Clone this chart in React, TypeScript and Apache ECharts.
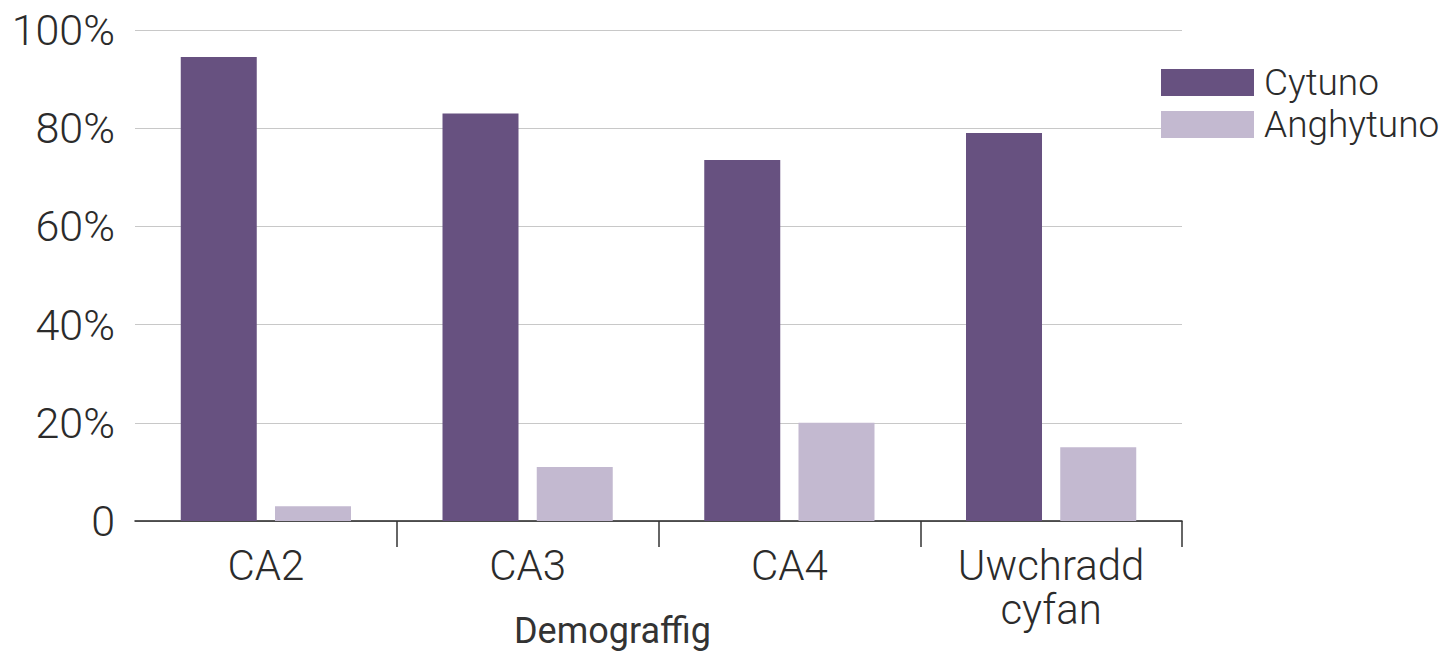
import React, { useEffect, useRef } from "react";
import * as echarts from "echarts";

const categories = ["CA2", "CA3", "CA4", "Uwchradd\ncyfan"];
const cytuno = [94.5, 83, 73.5, 79];
const anghytuno = [3, 11, 20, 15];
const seriesNames = ["Cytuno", "Anghytuno"];
const xAxisName = "Demograffig";

export default function App() {
  const ref = useRef<HTMLDivElement>(null);
  useEffect(() => {
    if (!ref.current) return;
    const chart = echarts.init(ref.current, null, { renderer: "svg" });
    const font = "Roboto";
    chart.setOption({
      animation: false,
      grid: { left: 135, right: 258, top: 30, bottom: 132, containLabel: false, outerBoundsMode: "none" },
      legend: {
        orient: "vertical",
        left: 1161,
        top: 64,
        padding: 0,
        itemWidth: 93,
        itemHeight: 27,
        itemGap: 5,
        icon: "rect",
        data: seriesNames,
        textStyle: {
          fontFamily: font,
          fontWeight: 300,
          fontSize: 37,
          color: "#2b2b2b",
          padding: [0, 0, 0, 5],
        },
      },
      xAxis: {
        type: "category",
        data: categories,
        name: xAxisName,
        nameLocation: "middle",
        nameGap: 92,
        nameMoveOverlap: false,
        nameTextStyle: {
          fontFamily: font,
          fontSize: 36,
          color: "#333",
          fontWeight: 400,
          padding: [0, 92, 0, 0],
        },
        axisLine: { lineStyle: { color: "#222", width: 1.5 } },
        axisTick: {
          show: true,
          length: 26,
          interval: (i: number) => i !== 0,
          lineStyle: { color: "#333", width: 1.5 },
        },
        axisLabel: {
          fontFamily: font,
          fontWeight: 300,
          fontSize: 42,
          color: "#2b2b2b",
          margin: 22,
          lineHeight: 44,
        },
      },
      yAxis: {
        type: "value",
        min: 0,
        max: 100,
        interval: 20,
        axisLine: { show: false },
        axisTick: { show: false },
        splitLine: { lineStyle: { color: "#c8c8c8", width: 1.2 } },
        axisLabel: {
          fontFamily: font,
          fontWeight: 300,
          fontSize: 43,
          color: "#2b2b2b",
          margin: 20,
          formatter: (v: number) => (v === 0 ? "0" : v + "%"),
        },
      },
      series: [
        {
          name: seriesNames[0],
          type: "bar",
          data: cytuno,
          barWidth: 76,
          barGap: "24%",
          itemStyle: { color: "#675180" },
        },
        {
          name: seriesNames[1],
          type: "bar",
          data: anghytuno,
          barWidth: 76,
          barGap: "24%",
          itemStyle: { color: "#c3b9d0" },
        },
      ],
    });
    return () => chart.dispose();
  }, []);
  return <div ref={ref} style={{ width: 1440, height: 653, position: "absolute", left: 0, top: 0 }} />;
}
